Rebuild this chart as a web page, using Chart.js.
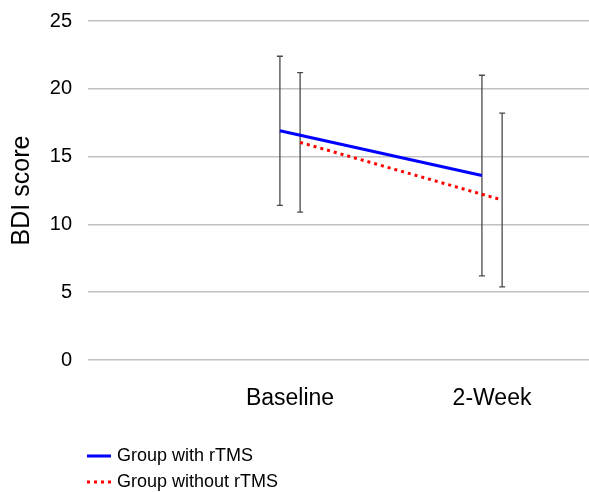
<!DOCTYPE html>
<html>
<head>
<meta charset="utf-8">
<script src="https://cdn.jsdelivr.net/npm/chart.js@4/dist/chart.umd.min.js"></script>
<style>
  body { margin: 0; background: #fff; }
  #wrap { width: 589px; height: 492px; position: relative; }
</style>
</head>
<body>
<div id="wrap"><canvas id="bdi"></canvas></div>
<script>
// values
const timepoints = ["Baseline", "2-Week"];
const withRTMS = [16.9, 13.6];
const withRTMSsd = [5.5, 7.4];
const withoutRTMS = [16.05, 11.8];
const withoutRTMSsd = [5.15, 6.4];
const yTicks = [0, 5, 10, 15, 20, 25];

Chart.defaults.font.family = "'Liberation Sans', Arial, sans-serif";
Chart.defaults.color = "#000";

// small side-by-side offset so the two groups don't overlap
const dodge = 0.05;
const toPoints = (vals, sd, off) =>
  vals.map((v, i) => ({ x: i + 1 + off, y: v, sd: sd[i] }));

// vertical +/- SD bars, drawn under the lines
const errorBars = {
  id: "errorBars",
  beforeDatasetsDraw(chart) {
    const { ctx, scales: { x, y } } = chart;
    ctx.save();
    ctx.strokeStyle = "#4a4a4a";
    ctx.lineWidth = 1.3;
    chart.data.datasets.forEach((ds) => {
      ds.data.forEach((p) => {
        const px = x.getPixelForValue(p.x);
        const top = y.getPixelForValue(p.y + p.sd);
        const bot = y.getPixelForValue(p.y - p.sd);
        ctx.beginPath();
        ctx.moveTo(px, top); ctx.lineTo(px, bot);
        ctx.moveTo(px - 3, top); ctx.lineTo(px + 3, top);
        ctx.moveTo(px - 3, bot); ctx.lineTo(px + 3, bot);
        ctx.stroke();
      });
    });
    ctx.restore();
  }
};

// legend stacked one item per row under the axis
const stackedLegend = {
  id: "stackedLegend",
  afterDraw(chart) {
    const { ctx } = chart;
    ctx.save();
    ctx.font = "18px 'Liberation Sans', Arial, sans-serif";
    ctx.textBaseline = "middle";
    chart.data.datasets.forEach((ds, i) => {
      const yy = 456 + i * 26;
      ctx.strokeStyle = ds.borderColor;
      ctx.lineWidth = ds.borderWidth;
      ctx.setLineDash(ds.borderDash || []);
      ctx.beginPath();
      ctx.moveTo(87, yy); ctx.lineTo(111, yy);
      ctx.stroke();
      ctx.setLineDash([]);
      ctx.fillStyle = "#000";
      ctx.fillText(ds.label, 117, yy);
    });
    ctx.restore();
  }
};

new Chart(document.getElementById("bdi"), {
  type: "line",
  data: {
    datasets: [
      {
        label: "Group with rTMS",
        data: toPoints(withRTMS, withRTMSsd, -dodge),
        borderColor: "#0000ff",
        borderWidth: 3,
        pointRadius: 0,
        tension: 0
      },
      {
        label: "Group without rTMS",
        data: toPoints(withoutRTMS, withoutRTMSsd, dodge),
        borderColor: "#ff0000",
        borderWidth: 3,
        borderDash: [3, 4],
        pointRadius: 0,
        tension: 0
      }
    ]
  },
  options: {
    responsive: true,
    maintainAspectRatio: false,
    animation: false,
    layout: { padding: { top: 21, right: 0, bottom: 60, left: 0 } },
    plugins: {
      legend: { display: false },
      tooltip: { enabled: false }
    },
    scales: {
      x: {
        type: "linear",
        min: 0,
        max: 2.48,
        grid: { display: false },
        border: { display: false },
        afterBuildTicks: (scale) => {
          scale.ticks = timepoints.map((_, i) => ({ value: i + 1 }));
        },
        afterFit: (scale) => { scale.height = 72; },
        ticks: {
          font: { size: 23 },
          padding: 17,
          maxRotation: 0,
          callback: (v) => timepoints[v - 1] || ""
        }
      },
      y: {
        min: 0,
        max: 25,
        afterBuildTicks: (scale) => {
          scale.ticks = yTicks.map((v) => ({ value: v }));
        },
        afterFit: (scale) => {
          scale.width = 88;
          scale.paddingTop = 0;
          scale.paddingBottom = 0;
        },
        grid: { color: "#c2c2c2", lineWidth: 1.6, drawTicks: false },
        border: { display: false },
        ticks: { font: { size: 20 }, padding: 16 },
        title: {
          display: true,
          text: "BDI score",
          font: { size: 25 },
          padding: { top: 7, bottom: 0 }
        }
      }
    }
  },
  plugins: [errorBars, stackedLegend]
});
</script>
</body>
</html>
